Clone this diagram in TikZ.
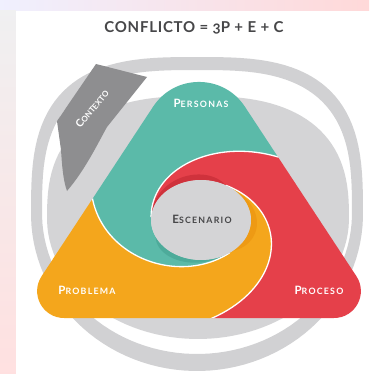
\documentclass[tikz,border=0pt]{standalone}
\usepackage{fontspec}
\setmainfont{Lato}
\definecolor{tealc}{HTML}{5BBAA9}
\definecolor{tealdk}{HTML}{4DAB9A}
\definecolor{redc}{HTML}{E5404A}
\definecolor{reddk}{HTML}{CF323C}
\definecolor{orc}{HTML}{F4A61C}
\definecolor{ordk}{HTML}{EE9A14}
\definecolor{ringgray}{HTML}{D1D1D3}
\definecolor{diskgray}{HTML}{D4D4D6}
\definecolor{bannergray}{HTML}{8E8E90}
\definecolor{titlegray}{HTML}{474749}
\newcommand\capsc[2]{{\fontsize{11.5}{11.5}\selectfont #1}{\fontsize{8.8}{8.8}\selectfont #2}}
\tikzset{
  swirl/.style={shift={(201,220)}, yscale=-0.8},          % squashed frame round the centre
  armline/.style={white, line width=1.3pt},               % white rim of each arm
  lbl/.style={white, font=\bfseries\addfontfeature{LetterSpace=14}, inner sep=0pt},
  titletxt/.style={titlegray, font=\bfseries\fontsize{15}{15}\selectfont\addfontfeature{LetterSpace=5}, inner sep=0pt},
}
% rounded triangle (display px)
\def\tripath{(64.1,318) -- (333.9,318) .. controls (355.4,318) and (368.2,294.2) .. (356.4,276.2)
  -- (244.9,106.7) .. controls (223.2,73.7) and (174.8,73.7) .. (153.1,106.7)
  -- (41.6,276.2) .. controls (29.8,294.2) and (42.6,318) .. (64.1,318) -- cycle}

\begin{document}
\begin{tikzpicture}[x=1pt, y=-1pt,
  declare function={sx(\t,\p)=cos(\t)*exp(\p*ln(abs(cos(\t))));
                    sy(\t,\p)=sin(\t)*exp(\p*ln(abs(sin(\t))));
                    sp(\d)=50+0.07*\d+0.003*\d*\d;
                    spt(\d)=50+0.07*\d+0.0027*\d*\d;
                    dk(\d,\m)=0.55*(0.07*\d+0.003*\d*\d)*(1-(\d/\m)*(\d/\m));}]
  \useasboundingbox (0,0) rectangle (369,374);

  % --- backdrop and white sheet ---
  \shade[left color=black!4!blue!6, middle color=blue!10!black!8, right color=red!15] (0,0) rectangle (369,11);
  \shade[top color=blue!8!black!6, bottom color=red!12] (0,11) rectangle (16,374);
  \fill[white] (16,11) rectangle (369,374);

  % --- title ---
  \node[titletxt] (title) at (194,28) {CONFLICTO = {\addfontfeature{Numbers=OldStyle}3}P + E + C};

  % --- outer ring and inner disk (flatter on top, elliptic below) ---
  \fill[ringgray, even odd rule]
    plot[domain=1.5:178.5, samples=60] ({197+166*cos(\x)}, {214+157*sin(\x)})
      -- plot[domain=181.5:358.5, samples=60] ({197+166*sx(\x,-0.3333)}, {214+157*sy(\x,-0.3333)}) -- cycle
    plot[domain=1.5:178.5, samples=60] ({197+155*cos(\x)}, {213+141*sin(\x)})
      -- plot[domain=181.5:358.5, samples=60] ({197+155*sx(\x,-0.3333)}, {213+143*sy(\x,-0.3333)}) -- cycle;
  \fill[diskgray]
    plot[domain=1.5:178.5, samples=60] ({198+151*cos(\x)}, {218+121*sin(\x)})
      -- plot[domain=181.5:358.5, samples=60] ({198+151*sx(\x,-0.2308)}, {218+122*sy(\x,-0.2308)}) -- cycle;

  % --- context banner ---
  \fill[bannergray] (96,64) -- (147,77) -- (107,127) .. controls (97,145) and (85,170) .. (67,191)
    .. controls (63,180) and (62,165) .. (61,150) -- (57,121) -- cycle;
  \node[white, font=\bfseries, inner sep=0pt, rotate=50]
    (contexto) at (92,109) {{\fontsize{10.5}{10.5}\selectfont C}{\fontsize{8}{8}\selectfont ONTEXTO}};

  % --- swirl inside the triangle ---
  \begin{scope}
    \clip \tripath;
    \begin{scope}[swirl]
      % red: top arm + right corner
      \fill[redc] plot[domain=60:176, samples=30] (\x:50)
        -- plot[variable=\d, domain=0:150, samples=60] ({176-\d}:{sp(\d)})
        -- (249,56) -- (249,-290) -- (-37,-290)
        -- plot[variable=\d, domain=165:0, samples=60] ({60-\d}:{sp(\d)}) -- cycle;
      % teal: top corner + lower arm
      \fill[tealc] plot[domain=176:305, samples=30] (\x:50)
        -- plot[variable=\d, domain=0:160, samples=60] ({-55-\d}:{spt(\d)})
        -- (-250,75) -- (-250,400) -- (300,400) -- (300,56)
        -- plot[variable=\d, domain=150:0, samples=60] ({176-\d}:{sp(\d)}) -- cycle;
      % orange: left corner + right arm
      \fill[orc] plot[domain=-55:60, samples=30] (\x:50)
        -- plot[variable=\d, domain=0:165, samples=60] ({60-\d}:{sp(\d)})
        -- (-37,-290) -- (-250,-290) -- (-250,75)
        -- plot[variable=\d, domain=160:0, samples=60] ({-55-\d}:{spt(\d)}) -- cycle;

      % darker tips of the arms
      \fill[reddk] plot[variable=\d, domain=0:115, samples=40] ({176-\d}:{50+dk(\d,115)})
        -- plot[domain=61:176, samples=25] (\x:50) -- cycle;
      \fill[ordk] plot[variable=\d, domain=0:110, samples=40] ({60-\d}:{50+dk(\d,110)})
        -- plot[domain=-50:60, samples=25] (\x:50) -- cycle;
      \fill[tealdk] plot[variable=\d, domain=0:100, samples=40] ({-55-\d}:{50+dk(\d,100)})
        -- plot[domain=-155:-55, samples=25] (\x:50) -- cycle;

      % white rims
      \draw[armline] plot[variable=\d, domain=0:150, samples=60] ({176-\d}:{sp(\d)});
      \draw[armline] plot[variable=\d, domain=0:165, samples=60] ({60-\d}:{sp(\d)});
      \draw[armline] plot[variable=\d, domain=0:160, samples=60] ({-55-\d}:{spt(\d)});

      % centre
      \fill[diskgray] plot[domain=0:360, samples=72] (\x:50) -- cycle;
    \end{scope}
  \end{scope}

  % --- labels ---
  \node[lbl] (personas) at (201,103) {\capsc{P}{ERSONAS}};
  \node[lbl, text=titlegray] (escenario) at (202,219) {\capsc{E}{SCENARIO}};
  \node[lbl] (problema) at (87,290) {\capsc{P}{ROBLEMA}};
  \node[lbl] (proceso) at (319,290) {\capsc{P}{ROCESO}};
\end{tikzpicture}
\end{document}
